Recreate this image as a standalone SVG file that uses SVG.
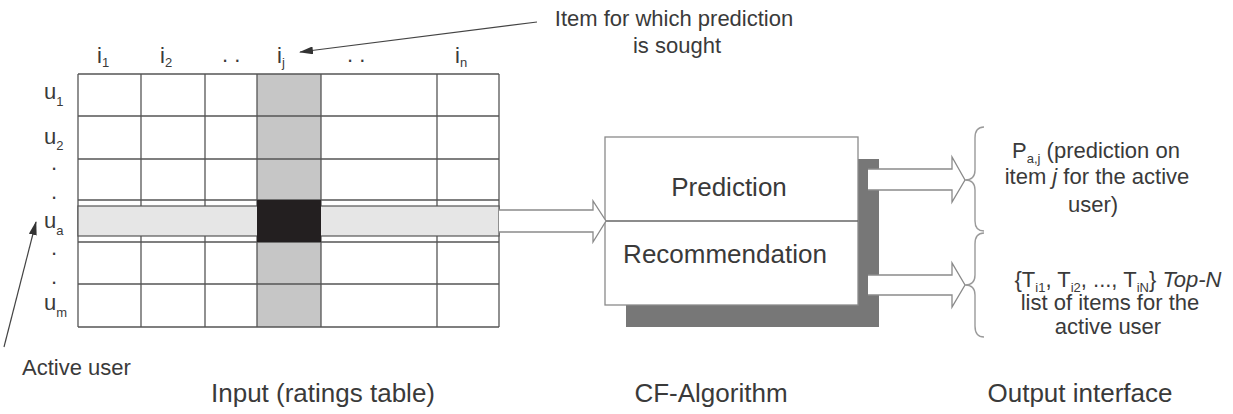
<svg xmlns="http://www.w3.org/2000/svg" width="1233" height="414" viewBox="0 0 1233 414">
  <style>
    text { font-family: "Liberation Sans", Arial, sans-serif; fill: #3a3a3a; }
    .lbl { font-size: 22px; }
    .big { font-size: 26px; }
    .sub { font-size: 13px; }
    .grid line { stroke: #555; stroke-width: 1.3; }
    .hollow { fill: #fff; stroke: #8a8a8a; stroke-width: 1.3; }
    .brace { fill: none; stroke: #9a9a9a; stroke-width: 1.4; }
    .pointer { stroke: #444; stroke-width: 1.2; fill: none; marker-end: url(#head); }
  </style>
  <defs>
    <marker id="head" viewBox="0 0 14 8" refX="13" refY="4" markerWidth="14" markerHeight="8" markerUnits="userSpaceOnUse" orient="auto">
      <path d="M0,0 L14,4 L0,8 Z" fill="#333"/>
    </marker>
  </defs>

  <rect width="1233" height="414" fill="#fff"/>

  <!-- ratings table -->
  <g id="ratings-table">
    <rect x="257" y="74" width="64" height="253" fill="#c6c6c6"/>
    <g class="grid">
      <line x1="78" y1="74" x2="499" y2="74"/>
      <line x1="78" y1="116" x2="499" y2="116"/>
      <line x1="78" y1="159" x2="499" y2="159"/>
      <line x1="78" y1="200" x2="499" y2="200"/>
      <line x1="78" y1="242" x2="499" y2="242"/>
      <line x1="78" y1="284" x2="499" y2="284"/>
      <line x1="78" y1="327" x2="499" y2="327"/>
      <line x1="78" y1="74" x2="78" y2="327"/>
      <line x1="141" y1="74" x2="141" y2="327"/>
      <line x1="205" y1="74" x2="205" y2="327"/>
      <line x1="257" y1="74" x2="257" y2="327"/>
      <line x1="321" y1="74" x2="321" y2="327"/>
      <line x1="437" y1="74" x2="437" y2="327"/>
      <line x1="499" y1="74" x2="499" y2="327"/>
    </g>
    <!-- active user row -->
    <rect x="78" y="206" width="421" height="30" fill="#e6e6e6" stroke="#555" stroke-width="1.2"/>
    <!-- predicted cell -->
    <rect x="257" y="200" width="64" height="42" fill="#231f20"/>

    <!-- item headers -->
    <text class="lbl" x="97" y="63">i<tspan class="sub" dy="4">1</tspan></text>
    <text class="lbl" x="160" y="63">i<tspan class="sub" dy="4">2</tspan></text>
    <text class="lbl" x="222" y="62">. .</text>
    <text class="lbl" x="277" y="63">i<tspan class="sub" dy="4">j</tspan></text>
    <text class="lbl" x="347" y="62">. .</text>
    <text class="lbl" x="455" y="63">i<tspan class="sub" dy="4">n</tspan></text>

    <!-- user rows -->
    <text class="lbl" x="44" y="99">u<tspan class="sub" dy="7">1</tspan></text>
    <text class="lbl" x="44" y="144">u<tspan class="sub" dy="6">2</tspan></text>
    <text class="lbl" x="51" y="170">.</text>
    <text class="lbl" x="51" y="199">.</text>
    <text class="lbl" x="44" y="228">u<tspan class="sub" dy="7">a</tspan></text>
    <text class="lbl" x="51" y="255">.</text>
    <text class="lbl" x="51" y="284">.</text>
    <text class="lbl" x="44" y="310">u<tspan class="sub" dy="7">m</tspan></text>

    <text class="big" x="323" y="402" text-anchor="middle">Input (ratings table)</text>
  </g>

  <!-- annotations -->
  <g id="item-note">
    <text class="lbl" x="674" y="26" text-anchor="middle">Item for which prediction</text>
    <text class="lbl" x="677" y="53" text-anchor="middle">is sought</text>
  </g>
  <g id="active-user-note">
    <text class="lbl" x="22" y="375">Active user</text>
  </g>

  <!-- CF algorithm block -->
  <g id="cf-algorithm">
    <rect x="626" y="159" width="253" height="168" fill="#777"/>
    <rect x="605" y="137" width="253" height="168" fill="#fff" stroke="#8a8a8a" stroke-width="1.3"/>
    <line x1="605" y1="221" x2="858" y2="221" stroke="#666" stroke-width="1.3"/>
    <text class="big" x="729" y="196" text-anchor="middle">Prediction</text>
    <text class="big" x="725" y="263" text-anchor="middle">Recommendation</text>
    <text class="big" x="711" y="402" text-anchor="middle">CF-Algorithm</text>
  </g>

  <!-- output interface -->
  <g id="output-prediction">
    <text class="lbl" x="1096" y="158" text-anchor="middle">P<tspan class="sub" dy="5">a,j</tspan><tspan dy="-5"> (prediction on</tspan></text>
    <text class="lbl" x="1097" y="184" text-anchor="middle">item <tspan font-style="italic">j</tspan> for the active</text>
    <text class="lbl" x="1093" y="212" text-anchor="middle">user)</text>
  </g>
  <g id="output-recommendation">
    <text class="lbl" x="1118" y="287" text-anchor="middle">{T<tspan class="sub" dy="5">i1</tspan><tspan dy="-5">, T</tspan><tspan class="sub" dy="5">i2</tspan><tspan dy="-5">, ..., T</tspan><tspan class="sub" dy="5">iN</tspan><tspan dy="-5">} </tspan><tspan font-style="italic">Top-N</tspan></text>
    <text class="lbl" x="1110" y="310" text-anchor="middle">list of items for the</text>
    <text class="lbl" x="1108" y="334" text-anchor="middle">active user</text>
  </g>
  <g id="output-title">
    <text class="big" x="1080" y="402" text-anchor="middle">Output interface</text>
  </g>

  <!-- connectors -->
  <g id="connectors">
    <path class="hollow" d="M499,210 L593,210 L593,201 L606,221 L593,242 L593,232 L499,232"/>
    <path class="hollow" d="M868,169 L952,169 L952,157 L965,180 L952,202 L952,190 L868,190"/>
    <path class="hollow" d="M868,275 L952,275 L952,263 L965,285 L952,307 L952,295 L868,295"/>
    <path class="brace" d="M984,127 Q975,127 975,138 L975,170 Q975,180 965,180 Q975,180 975,190 L975,221 Q975,231 984,231"/>
    <path class="brace" d="M984,233 Q975,233 975,244 L975,275 Q975,285 965,285 Q975,285 975,295 L975,326 Q975,337 984,337"/>
    <line class="pointer" x1="537" y1="22" x2="300" y2="52"/>
    <line class="pointer" x1="4" y1="347" x2="36" y2="222"/>
  </g>
</svg>
